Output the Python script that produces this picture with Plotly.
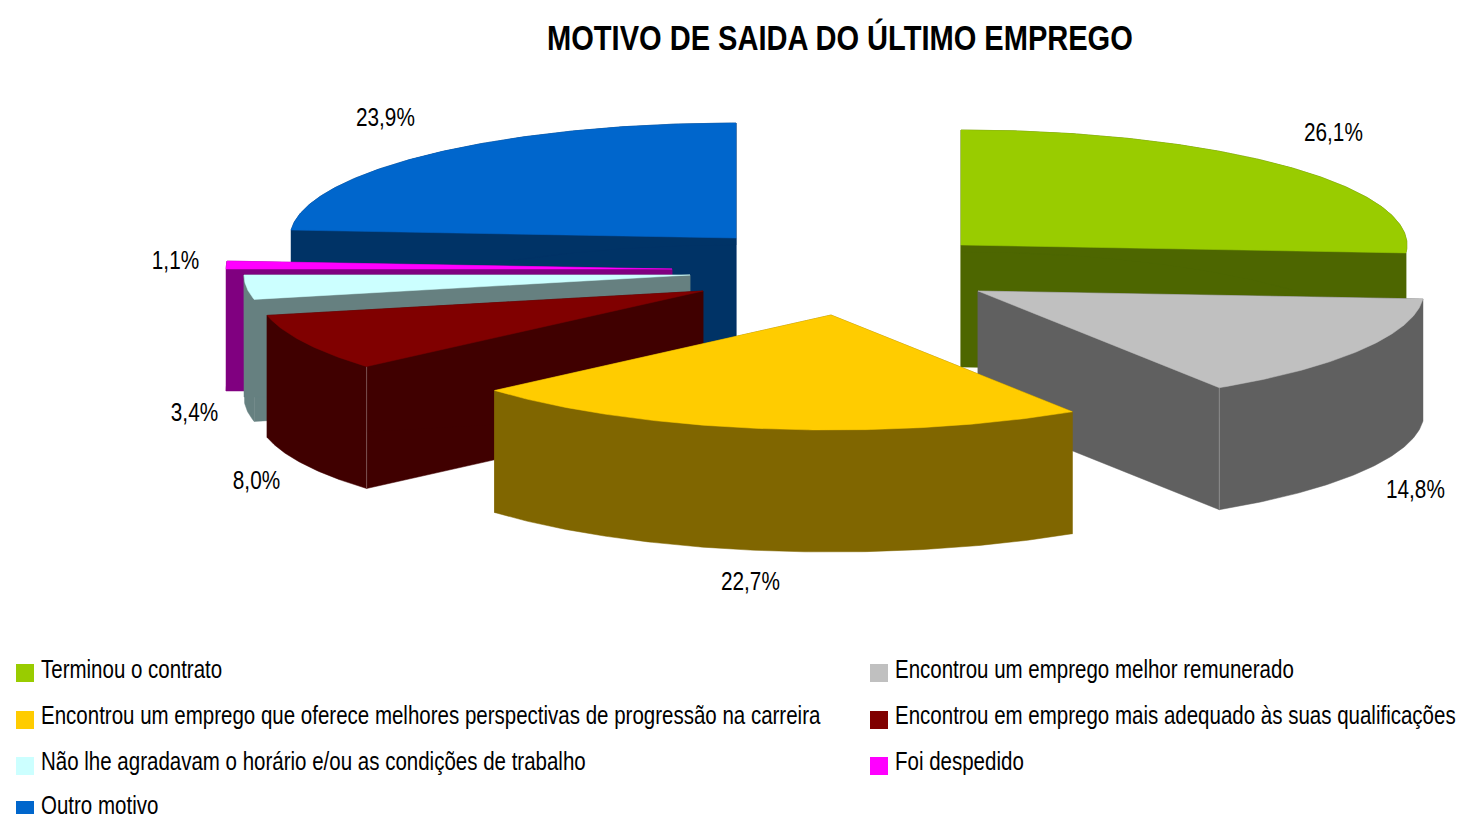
import json
import math
import plotly.graph_objects as go

# ---- data ----
categories = [
    "Terminou o contrato",
    "Encontrou um emprego melhor remunerado",
    "Encontrou um emprego que oferece melhores perspectivas de progressão na carreira",
    "Encontrou em emprego mais adequado às suas qualificações",
    "Não lhe agradavam o horário e/ou as condições de trabalho",
    "Foi despedido",
    "Outro motivo",
]
values = [26.1, 14.8, 22.7, 8.0, 3.4, 1.1, 23.9]
title_text = "MOTIVO DE SAIDA DO ÚLTIMO EMPREGO"

# ---- style ----
top_colors = ["#99CC00", "#C0C0C0", "#FFCC00", "#800000", "#CCFFFF", "#FF00FF", "#0066CC"]
wall_colors = ["#4D6600", "#606060", "#806600", "#400000", "#668080", "#800080", "#003366"]
corner_line = [None, "#8C8C8C", None, "#7A5050", None, None, None]
draw_order = [6, 0, 5, 4, 3, 1, 2]

# ---- layout of the projected pie (paper is 1459 x 814, axes are in pixels) ----
W, H = 1459, 814
CX, CY = 845, 274
RX, RY, DEPTH = 446, 115, 122
explode_dx = [116, 133, -14, -142, -155, -173, -109]
explode_dy = [-29, 17, 41, 17, 1, -5, -36]
label_x = [1333, 1415, 750, 256, 194, 175, 385]
label_y = [132, 489, 581, 480, 412, 260, 117]
legend_col = [0, 1, 0, 1, 0, 1, 0]
legend_y = [669, 669, 715, 715, 761, 761, 805]
legend_swatch_top = [664, 664, 711, 711, 757, 757, 801]
legend_swatch_x = [16, 870]
legend_text_x = [39, 893]
FONT = "Liberation Sans, Arial, sans-serif"
TEXT = "#000000"
# The reference uses a narrow face: regular Liberation Sans glyphs are condensed horizontally.
NARROW_TITLE, NARROW_LABEL, NARROW_LEGEND = 0.83, 0.83, 0.82

total = sum(values)
starts, acc = [], 0.0
for v in values:
    starts.append(acc / total * 2 * math.pi)
    acc += v
ends = starts[1:] + [2 * math.pi]


def arc(ax, ay, a0, a1):
    n = max(3, int((a1 - a0) / 0.01))
    pts = [a0 + (a1 - a0) * i / n for i in range(n + 1)]
    return [ax + RX * math.sin(t) for t in pts], [ay - RY * math.cos(t) for t in pts]


fig = go.Figure()


def poly(xs, ys, color, name):
    fig.add_trace(go.Scatter(
        x=xs, y=ys, mode="lines", fill="toself", fillcolor=color,
        line=dict(color=color, width=0.5), name=name,
        hoverinfo="name", showlegend=False,
    ))


for i in draw_order:
    ax, ay = CX + explode_dx[i], CY + explode_dy[i]
    xs, ys = arc(ax, ay, starts[i], ends[i])
    wall = wall_colors[i]
    for ex, ey in ((xs[0], ys[0]), (xs[-1], ys[-1])):
        poly([ax, ex, ex, ax, ax], [ay, ey, ey + DEPTH, ay + DEPTH, ay], wall, categories[i])
    poly(xs + xs[::-1], ys + [y + DEPTH for y in ys[::-1]], wall, categories[i])
    if corner_line[i]:
        k = -1 if i == 1 else 0
        fig.add_trace(go.Scatter(
            x=[xs[k], xs[k]], y=[ys[k], ys[k] + DEPTH], mode="lines",
            line=dict(color=corner_line[i], width=1), hoverinfo="skip", showlegend=False,
        ))
    poly([ax] + xs + [ax], [ay] + ys + [ay], top_colors[i], categories[i])

annotations = [dict(
    x=840, y=37, text=f"<b>{title_text}</b>", showarrow=False, xanchor="center", yanchor="middle",
    font=dict(family=FONT, size=35, color=TEXT),
)]
scales = [[NARROW_TITLE, "c"]]
for i, v in enumerate(values):
    annotations.append(dict(
        x=label_x[i], y=label_y[i], text=f"{v:.1f}%".replace(".", ","), showarrow=False,
        xanchor="center", yanchor="middle", font=dict(family=FONT, size=25, color=TEXT),
    ))
    scales.append([NARROW_LABEL, "c"])
shapes = []
for i, c in enumerate(categories):
    col = legend_col[i]
    annotations.append(dict(
        x=legend_text_x[col], y=legend_y[i], text=c, showarrow=False,
        xanchor="left", yanchor="middle", font=dict(family=FONT, size=25, color=TEXT),
    ))
    scales.append([NARROW_LEGEND, "l"])
    sx = legend_swatch_x[col]
    shapes.append(dict(
        type="rect", x0=sx, x1=sx + 18, y0=legend_swatch_top[i], y1=legend_swatch_top[i] + 18,
        fillcolor=top_colors[i], line=dict(width=0), layer="above",
    ))

fig.update_layout(
    width=W, height=H, margin=dict(l=0, r=0, t=0, b=0),
    paper_bgcolor="white", plot_bgcolor="white",
    xaxis=dict(range=[0, W], visible=False, fixedrange=True),
    yaxis=dict(range=[H, 0], visible=False, fixedrange=True),
    annotations=annotations, shapes=shapes, showlegend=False,
)

post = """
document.body.style.margin='0';document.body.style.overflow='hidden';
var gd=document.getElementById('{plot_id}');
var S=%s;
function narrow(){
  gd.querySelectorAll('.annotation[data-index]').forEach(function(g){
    var s=S[+g.getAttribute('data-index')],t=g.querySelector('text');
    if(!s||!t)return;
    t.removeAttribute('transform');
    var b=t.getBBox(),p=s[1]==='l'?b.x:b.x+b.width/2;
    t.setAttribute('transform','translate('+p+',0) scale('+s[0]+',1) translate('+(-p)+',0)');
  });
}
narrow();
gd.on('plotly_afterplot',narrow);
""" % json.dumps(scales)
fig.write_html("out.html", post_script=post, config={"displayModeBar": False})
